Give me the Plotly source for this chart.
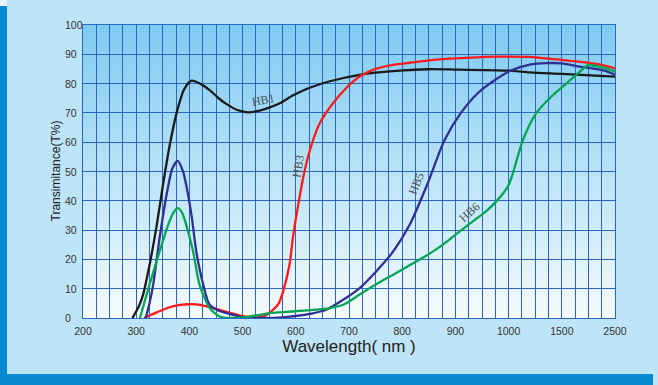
import numpy as np
import plotly.graph_objects as go

# ---- axis ticks (broken wavelength axis: equal spacing per tick) ----
WL_TICKS = [200, 300, 400, 500, 600, 700, 800, 900, 1000, 1500, 2500]
TICK_LABELS = [str(v) for v in WL_TICKS]
Y_TICKS = list(range(0, 101, 10))

# ---- series (wavelength nm, transmittance %) ----
hb1_wl = [293, 305, 313, 325, 338, 350, 362, 376, 390, 404, 420, 438, 455, 470, 490, 510,
          532, 550, 570, 595, 626, 664, 720, 795, 848, 900, 1000, 1200, 1500, 2500]
hb1_t = [0, 4, 8, 18, 31, 45, 58, 70, 78, 81, 80, 77.8, 75, 73, 71, 70.2,
         70.8, 71.8, 73.3, 76, 78.6, 80.8, 83, 84.4, 84.9, 84.8, 84.4, 83.8, 83.3, 82.4]

hb3_wl = [315, 340, 360, 380, 400, 420, 440, 460, 480, 500, 520, 540, 557, 568, 576, 588,
          595, 604, 614, 626, 645, 670, 695, 720, 750, 783, 830, 870, 920, 977, 1200,
          1355, 1500, 2150, 2500]
hb3_t = [0, 2, 3.5, 4.4, 4.7, 4.5, 3.6, 2.6, 1.6, 0.6, 0.2, 0.6, 2.8, 5, 9, 18,
         28, 38, 48, 57, 66.5, 73.3, 78.5, 82.4, 85, 86.4, 87.5, 88.3, 88.8, 89.2, 89.1,
         88.6, 88.1, 86.7, 85.2]

hb5_wl = [318, 325, 332, 344, 357, 368, 378, 388, 394, 404, 413, 426, 438, 455, 470, 500,
          532, 560, 595, 630, 657, 689, 720, 751, 783, 814, 848, 879, 910, 942, 975, 1025,
          1200, 1355, 1500, 1840, 2300, 2500]
hb5_t = [0, 5, 11.4, 27.3, 42, 51, 53.6, 50, 45.4, 35, 22.7, 11.4, 4.5, 2.5, 1.7, 0.3,
         0, 0, 0.6, 1.5, 2.8, 6.2, 10.2, 15.9, 22.7, 31.8, 46, 60.5, 69.9, 76.7, 81.3, 84.5,
         86.5, 87.0, 86.9, 85.8, 84.4, 83.0]

hb6_wl = [307, 325, 344, 360, 370, 378, 386, 394, 407, 419, 438, 457, 480, 504, 530, 551,
          576, 620, 664, 690, 720, 751, 783, 814, 848, 870, 889, 910, 927, 958, 977, 999, 1040,
          1135, 1260, 1400, 1520, 1840, 1990, 2150, 2300, 2500]
hb6_t = [0, 11.4, 22.7, 31.8, 36, 37.5, 36, 31.8, 22.7, 11.4, 3.4, 0.5, 0, 0.3, 1.0, 1.7,
         2.0, 2.6, 3.4, 4.6, 8, 11.5, 14.8, 18.0, 21.6, 24.2, 26.8, 29.8, 32.2, 36.5, 39.8, 45, 49.4,
         60.8, 69.9, 75.5, 79, 84.1, 86.3, 86.0, 85.4, 84.1]

series = [
    ("HB1", hb1_wl, hb1_t, "#1a1a1a"),
    ("HB3", hb3_wl, hb3_t, "#ff1a1a"),
    ("HB5", hb5_wl, hb5_t, "#2e3192"),
    ("HB6", hb6_wl, hb6_t, "#00a651"),
]

# curve labels: (text, wavelength, T, angle)
labels = [("HB1", 539, 74.3, -10), ("HB3", 605, 51.8, -80),
          ("HB5", 826, 45.8, -68), ("HB6", 927, 36.2, -42)]


def wl_to_axis(wl):
    return np.interp(np.asarray(wl, dtype=float), WL_TICKS, np.arange(len(WL_TICKS)))


W, H = 658, 385
L, R, T, B = 83, 43, 25, 67
PW, PH = W - L - R, H - T - B

fig = go.Figure()
for name, wl, t, col in series:
    fig.add_trace(go.Scatter(x=wl_to_axis(wl), y=t, mode="lines", name=name,
                             line=dict(color=col, width=2.3, shape="spline", smoothing=0.7),
                             hoverinfo="skip"))

shapes = []
# gradient background inside plot area
n = 60
top = np.array([126, 203, 241])
bot = np.array([248, 252, 255])
for i in range(n):
    f = i / n
    c = top * (1 - f) + bot * f
    shapes.append(dict(type="rect", xref="x domain", yref="y domain",
                       x0=0, x1=1, y0=1 - (i + 1) / n, y1=1 - i / n + 0.002,
                       fillcolor="rgb(%d,%d,%d)" % tuple(c.astype(int)),
                       line=dict(width=0), layer="below"))


def px_x(p):
    return (p - L) / PW


def px_y(p):
    return (H - B - p) / PH


strip = "#0789d0"
shapes.append(dict(type="rect", xref="paper", yref="paper", x0=px_x(0), x1=px_x(7),
                   y0=px_y(385), y1=px_y(6), fillcolor=strip, line=dict(width=0), layer="below"))
shapes.append(dict(type="rect", xref="paper", yref="paper", x0=px_x(0), x1=px_x(653),
                   y0=px_y(385), y1=px_y(374), fillcolor=strip, line=dict(width=0), layer="below"))
shapes.append(dict(type="rect", xref="paper", yref="paper", x0=px_x(0), x1=px_x(7),
                   y0=px_y(6), y1=px_y(0), fillcolor="#e8f5fc", line=dict(width=0), layer="below"))

annotations = []
for txt, wl, t, ang in labels:
    annotations.append(dict(x=float(wl_to_axis(wl)), y=t, xref="x", yref="y", text=txt,
                            showarrow=False, textangle=ang,
                            font=dict(family="Liberation Serif", size=12, color="#505050")))

# left-aligned y tick labels (as in the reference)
for v in Y_TICKS:
    annotations.append(dict(x=px_x(63), y=v, xref="paper", yref="y", text=str(v),
                            showarrow=False, xanchor="left", yanchor="middle",
                            font=dict(family="Liberation Sans, Arial", size=10.5,
                                      color="#333333")))

# y-axis title as rotated text
annotations.append(dict(x=px_x(55), y=0.5, xref="paper", yref="paper",
                        text="Transimitance(T%)", textangle=-90, showarrow=False,
                        xanchor="center", yanchor="middle",
                        font=dict(family="Liberation Sans, Arial", size=12, color="#222222")))

grid = "#2a66c4"
fig.update_layout(
    width=W, height=H,
    margin=dict(l=L, r=R, t=T, b=B, autoexpand=False),
    paper_bgcolor="#bde4f8",
    plot_bgcolor="rgba(0,0,0,0)",
    showlegend=False,
    shapes=shapes,
    annotations=annotations,
    font=dict(family="Liberation Sans, Arial", color="#333333"),
    xaxis=dict(range=[0, 10], tickmode="array", tickvals=list(range(len(WL_TICKS))),
               ticktext=TICK_LABELS, showgrid=True, gridcolor=grid, gridwidth=1.2,
               minor=dict(tickmode="linear", tick0=0, dtick=0.25, showgrid=True,
                          gridcolor=grid, gridwidth=1.2),
               zeroline=False, showline=True, linecolor=grid, linewidth=1.2,
               mirror=True, ticks="", tickfont=dict(size=10.5, color="#333333"),
               ticklabelstandoff=3,
               automargin=False,
               title=dict(text="Wavelength( nm )", font=dict(size=17, color="#222222"),
                          standoff=3),
               fixedrange=True),
    yaxis=dict(range=[0, 100], tickmode="array", tickvals=Y_TICKS,
               showticklabels=False,
               showgrid=True, gridcolor=grid, gridwidth=1.2, zeroline=False,
               showline=True, linecolor=grid, linewidth=1.2, mirror=True, ticks="",
               automargin=False,
               fixedrange=True),
)

fig.write_html("out.html", config={"displayModeBar": False},
               post_script="document.body.style.margin='0px';"
                           "document.body.style.background='#bde4f8';")
